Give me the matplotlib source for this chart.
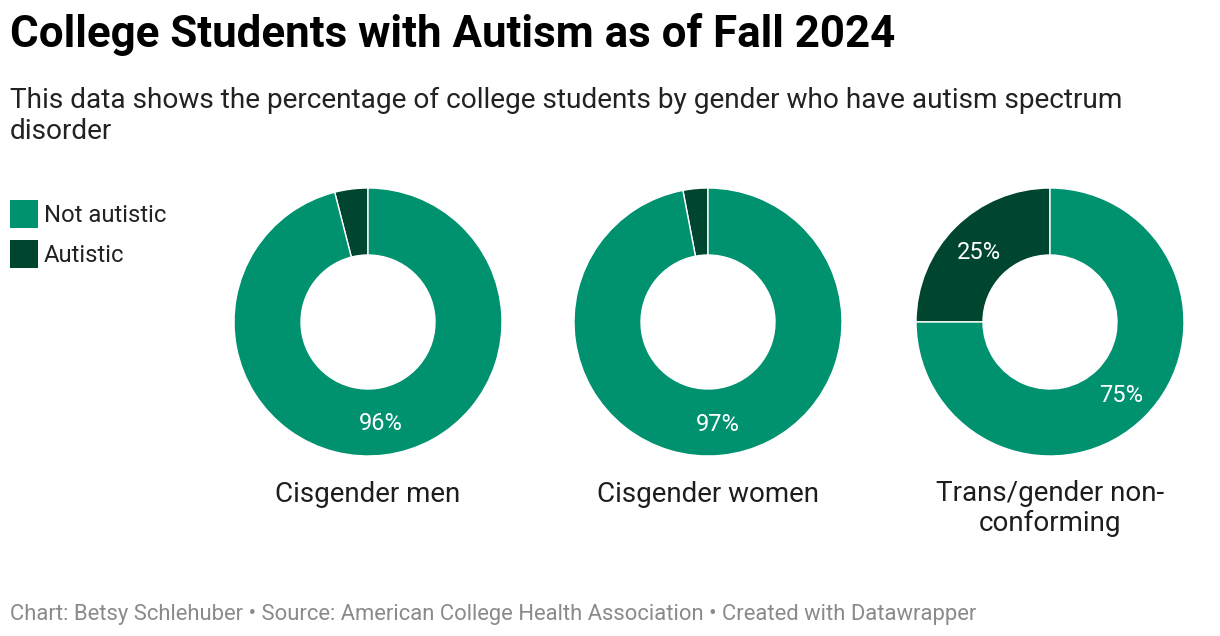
import matplotlib
matplotlib.use("Agg")
import matplotlib.pyplot as plt
from matplotlib.patches import Rectangle
import math

# Data
categories = ["Cisgender men", "Cisgender women", "Trans/gender non-\nconforming"]
series_names = ["Autistic", "Not autistic"]
autistic = [4, 3, 25]
not_autistic = [96, 97, 75]
show_autistic_label = [False, False, True]

title = "College Students with Autism as of Fall 2024"
subtitle = "This data shows the percentage of college students by gender who have autism spectrum\ndisorder"
footer = "Chart: Betsy Schlehuber \u2022 Source: American College Health Association \u2022 Created with Datawrapper"

C_NOT = "#00916f"
C_AUT = "#004530"

plt.rcParams['font.family'] = ['Roboto', 'DejaVu Sans']

W, H = 1220, 636
fig = plt.figure(figsize=(W / 100, H / 100), dpi=100)
ax = fig.add_axes([0, 0, 1, 1])
ax.set_xlim(0, W)
ax.set_ylim(0, H)
ax.set_aspect('equal')
ax.axis('off')

def ty(p):
    return H - p

centers_x = [368, 708, 1050]
cy = 322
R = 134
ring = 67

for i, cat in enumerate(categories):
    vals = [autistic[i], not_autistic[i]]
    ax.pie(vals, colors=[C_AUT, C_NOT], startangle=90, counterclock=True,
           center=(centers_x[i], ty(cy)), radius=R,
           wedgeprops=dict(width=ring, edgecolor='white', linewidth=1))
    total = sum(vals)
    start = 90.0
    for j, v in enumerate(vals):
        span = 360.0 * v / total
        mid = math.radians(start + span / 2)
        start += span
        if j == 0 and not show_autistic_label[i]:
            continue
        rr = R - ring / 2
        x = centers_x[i] + rr * math.cos(mid)
        y = ty(cy) + rr * math.sin(mid) - 2
        ax.text(x, y, f"{v}%", color='white', fontsize=17, ha='center', va='center')
    lines = cat.split('\n')
    if len(lines) == 1:
        ax.text(centers_x[i], ty(502), lines[0], fontsize=20, color='#1d1d1d', ha='center', va='baseline')
    else:
        ax.text(centers_x[i], ty(501), lines[0], fontsize=20, color='#1d1d1d', ha='center', va='baseline')
        ax.text(centers_x[i], ty(531), lines[1], fontsize=20, color='#1d1d1d', ha='center', va='baseline')
ax.set_xlim(0, W)
ax.set_ylim(0, H)

# Title & subtitle
ax.text(10, ty(47), title, fontsize=31.6, fontweight='bold', color='#000000', ha='left', va='baseline')
sl = subtitle.split('\n')
ax.text(10, ty(108), sl[0], fontsize=20.2, color='#222222', ha='left', va='baseline')
ax.text(10, ty(139), sl[1], fontsize=20.2, color='#222222', ha='left', va='baseline')

# Legend
leg = [("Not autistic", C_NOT, 200), ("Autistic", C_AUT, 240)]
for name, col, top in leg:
    ax.add_patch(Rectangle((10, ty(top + 28)), 28, 28, facecolor=col, edgecolor='none'))
    ax.text(44, ty(top + 15), name, fontsize=17.2, color='#222222', ha='left', va='center')

# Footer
ax.text(10, ty(620), footer, fontsize=15.8, color='#8a8a8a', ha='left', va='baseline')

fig.savefig("out.png", dpi=100, facecolor='white')
